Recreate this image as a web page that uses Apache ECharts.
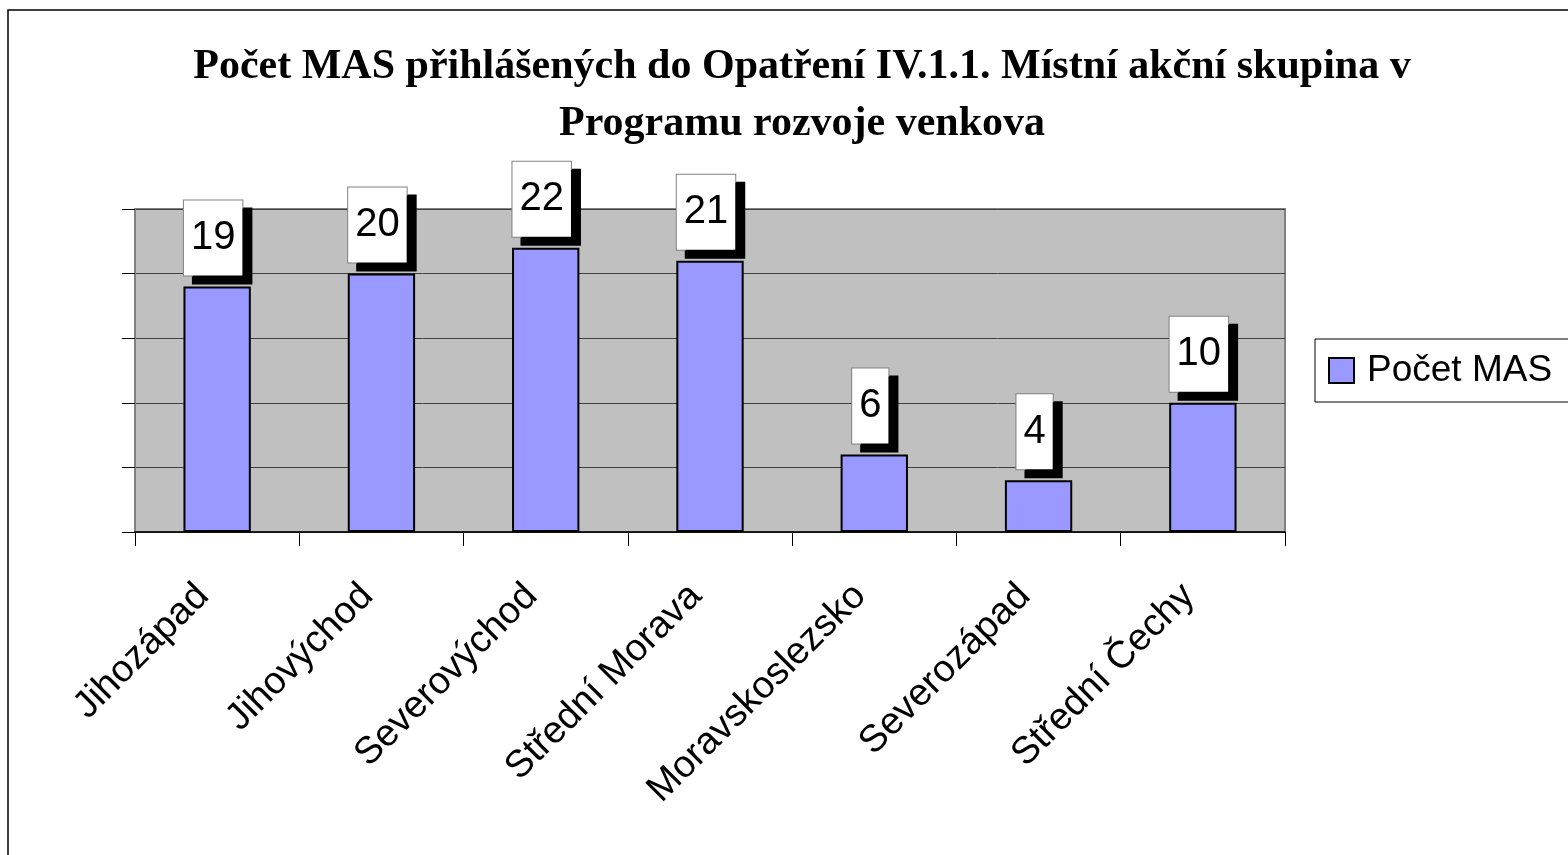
<!DOCTYPE html>
<html>
<head>
<meta charset="utf-8">
<title>Počet MAS</title>
<script src="https://cdn.jsdelivr.net/npm/echarts@6/dist/echarts.min.js"></script>
<style>
  html, body { margin: 0; padding: 0; background: #fff; }
  #chart { width: 1568px; height: 855px; }
</style>
</head>
<body>
<div id="chart"></div>
<script>
const regions = ['Jihozápad', 'Jihovýchod', 'Severovýchod', 'Střední Morava', 'Moravskoslezsko', 'Severozápad', 'Střední Čechy'];
const masCount = [19, 20, 22, 21, 6, 4, 10];
const seriesName = 'Počet MAS';
const titleText = 'Počet MAS přihlášených do Opatření IV.1.1. Místní akční skupina v\nProgramu rozvoje venkova';

const chart = echarts.init(document.getElementById('chart'));

const option = {
  backgroundColor: '#fff',
  animation: false,
  title: {
    text: titleText,
    left: 797,
    textAlign: 'center',
    top: 34,
    textStyle: {
      fontFamily: '"Liberation Serif", "Times New Roman", serif',
      fontWeight: 'bold',
      fontSize: 42,
      lineHeight: 57,
      color: '#000'
    }
  },
  legend: {
    data: [seriesName],
    left: 1315,
    top: 339,
    orient: 'vertical',
    backgroundColor: '#fff',
    borderColor: '#000',
    borderWidth: 1,
    borderRadius: 0,
    padding: [13, 30, 13, 13],
    itemWidth: 25,
    itemHeight: 25,
    icon: 'rect',
    textStyle: {
      fontFamily: '"Liberation Sans", Arial, sans-serif',
      fontSize: 37,
      color: '#000',
      padding: [0, 0, 0, 8]
    }
  },
  grid: {
    left: 135,
    right: 283,
    top: 209,
    bottom: 323,
    show: true,
    backgroundColor: '#c0c0c0',
    borderColor: '#808080',
    borderWidth: 2
  },
  xAxis: {
    type: 'category',
    data: regions,
    axisLine: { lineStyle: { color: '#000', width: 1.5 } },
    axisTick: { show: true, length: 14, lineStyle: { color: '#000' } },
    axisLabel: {
      rotate: 45,
      interval: 0,
      margin: 44,
      padding: [0, 20, 0, 0],
      fontFamily: '"Liberation Sans", Arial, sans-serif',
      fontSize: 38,
      color: '#000'
    }
  },
  yAxis: {
    type: 'value',
    min: 0,
    max: 25,
    interval: 5,
    axisLine: { show: true, lineStyle: { color: '#808080', width: 2 } },
    axisTick: { show: true, length: 13, lineStyle: { color: '#000' } },
    axisLabel: { show: false },
    splitLine: { lineStyle: { color: '#404040', width: 1 } }
  },
  series: [
    {
      name: seriesName,
      type: 'bar',
      data: masCount,
      barWidth: '41%',
      itemStyle: {
        color: '#9999ff',
        borderColor: '#000',
        borderWidth: 2
      },
      label: {
        show: true,
        position: 'top',
        distance: 11,
        offset: [-4, 0],
        fontFamily: '"Liberation Sans", Arial, sans-serif',
        fontSize: 40,
        lineHeight: 41,
        color: '#000',
        backgroundColor: '#fff',
        borderColor: '#808080',
        borderWidth: 1,
        padding: [17, 7, 17, 7],
        shadowColor: '#000',
        shadowBlur: 0,
        shadowOffsetX: 9,
        shadowOffsetY: 8
      }
    }
  ],
  graphic: [
    {
      type: 'rect',
      silent: true,
      z: 100,
      shape: { x: 8, y: 10, width: 1580, height: 870 },
      style: { fill: 'none', stroke: '#000', lineWidth: 1.5 }
    }
  ]
};

chart.setOption(option);
</script>
</body>
</html>
